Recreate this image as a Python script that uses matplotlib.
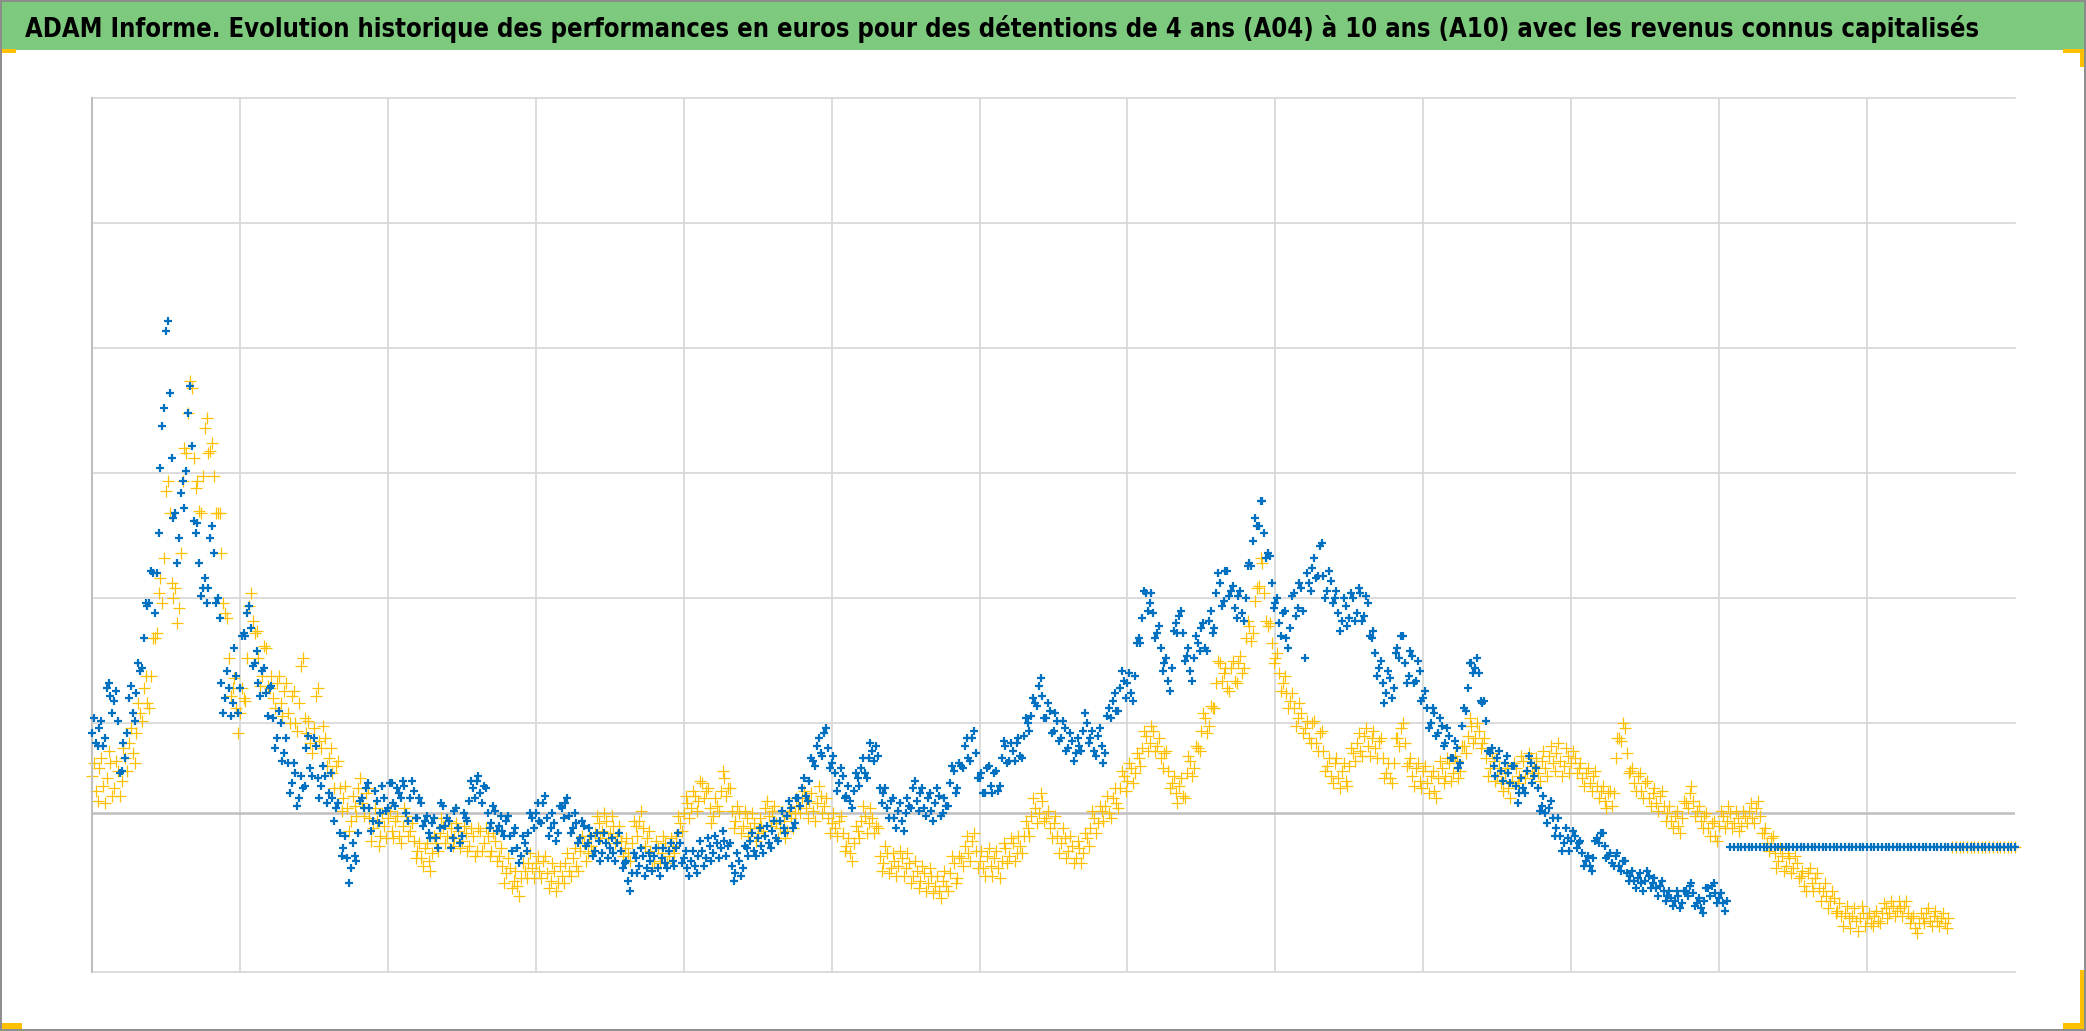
import os
import numpy as np
import matplotlib
matplotlib.use("Agg")
import matplotlib.pyplot as plt
from matplotlib import font_manager
from matplotlib.font_manager import FontProperties
from matplotlib.patches import Rectangle

# ---------------- data ----------------
title = ("ADAM Informe. Evolution historique des performances en euros pour des "
         "détentions de 4 ans (A04) à 10 ans (A10) avec les revenus connus capitalisés")

step = 0.025            # time between observations (x axis = 13 grid periods)
x_max = 13.0
y_min, y_max = -63.4, 286.2
grid_y = [36.2, 86.2, 136.2, 186.2, 236.2]
flat_value = -13.7      # constant value shown after the end of each series

# A04 (blue) performance, %  (observations at t = k*step)
a04_perf = [
    32, 28, 34, 27, 50, 47, 45, 37, 17, 22, 46, 40, 48, 57, 70, 83, 97, 80, 112, 155,
    193, 168, 118, 100, 128, 122, 160, 147, 112, 100, 90, 84, 110, 104, 86, 52, 46, 50, 44, 55,
    50, 72, 80, 74, 60, 52, 57, 48, 50, 38, 30, 36, 24, 20, 12, 16, 6, 10, 26, 18,
    30, 14, 11, 15, 8, 6, 2, -8, -14, -18, -22, -17, -8, 6, 10, 2, -3, 5, 0, 6,
    2, 12, 3, 8, 13, 0, 6, 9, -2, 4, -3, -8, -4, -10, -6, 3, -2, -14, 1, -6,
    -9, -2, 5, 10, 13, 8, 11, 0, -4, 1, -5, -7, -3, -9, -8, -14, -17, -12, -8, -2,
    0, -3, 4, -2, -6, -4, -8, 2, 4, -1, -6, -4, -10, -5, -12, -9, -15, -11, -16, -12,
    -14, -16, -12, -15, -20, -27, -24, -18, -21, -17, -22, -19, -17, -22, -18, -20, -15, -19, -14, -12,
    -18, -22, -19, -21, -17, -15, -18, -13, -16, -12, -14, -11, -13, -21, -24, -19, -22, -14, -11, -15,
    -10, -13, -9, -12, -7, -10, -3, -6, -1, 2, -4, 6, 10, 7, 13, 21, 27, 24, 32, 26,
    20, 16, 12, 15, 7, 5, 9, 14, 18, 16, 22, 25, 27, 10, 8, 2, 5, -2, 1, -3,
    0, 3, 10, 5, 8, 2, 6, 1, 4, 7, 0, 3, 12, 17, 10, 19, 27, 22, 30, 24,
    14, 8, 18, 11, 16, 9, 22, 27, 21, 25, 28, 23, 31, 36, 39, 44, 51, 47, 38, 41,
    33, 37, 30, 34, 26, 29, 24, 27, 33, 36, 30, 25, 31, 27, 24, 42, 45, 41, 50, 53,
    52, 48, 55, 70, 78, 88, 84, 80, 72, 66, 60, 53, 58, 76, 79, 72, 63, 57, 62, 68,
    74, 66, 77, 72, 88, 92, 85, 97, 89, 82, 87, 80, 86, 100, 109, 115, 125, 112, 104, 92,
    84, 76, 80, 70, 74, 88, 82, 90, 62, 92, 98, 94, 107, 95, 89, 93, 86, 80, 77, 83,
    78, 86, 80, 88, 79, 84, 70, 64, 58, 52, 48, 54, 50, 66, 71, 60, 55, 63, 53, 57,
    46, 42, 36, 40, 32, 35, 28, 31, 22, 26, 20, 42, 50, 60, 58, 56, 44, 37, 24, 19,
    22, 17, 20, 16, 19, 11, 8, 10, 17, 20, 15, 10, 3, 0, 2, -2, -6, -9, -12, -10,
    -11, -9, -12, -16, -19, -21, -18, -10, -8, -13, -17, -20, -17, -21, -19, -24, -25, -27, -26, -28,
    -27, -25, -28, -30, -29, -31, -33, -34, -35, -33, -36, -31, -29, -32, -36, -38, -35, -30, -29, -32,
    -34, -36, -35,
]
# A04 observations in between (t = k*step + step/2)
a04_perf_mid = [
    38, 27, 37, 30, 52, 40, 49, 16, 28, 32, 51, 37, 60, 58, 84, 84, 96, 96, 138, 162,
    197, 142, 120, 110, 133, 137, 171, 117, 116, 87, 94, 90, 115, 84, 78, 40, 57, 39, 66, 40,
    71, 71, 83, 59, 65, 47, 58, 39, 51, 26, 41, 21, 30, 8, 20, 3, 15, 11, 31, 15,
    27, 6, 19, 4, 16, -3, 4, -17, -9, -28, -12, -19, 5, 2, 12, -7, 9, -4, 11, 1,
    12, 4, 10, 6, 11, -3, 13, -2, 6, -5, -1, -10, -2, -14, 4, -5, -3, -10, 2, -12,
    0, -3, 13, 6, 15, 4, 10, -6, 3, -7, -1, -9, -1, -15, -6, -20, -9, -15, 0, -6,
    4, -4, 7, -9, 0, -11, 3, -2, 6, -8, 0, -12, -3, -13, -6, -17, -8, -19, -8, -18,
    -10, -19, -8, -22, -19, -31, -16, -24, -14, -25, -16, -23, -14, -25, -14, -22, -12, -21, -8, -20,
    -15, -25, -15, -24, -11, -21, -10, -19, -9, -18, -7, -17, -12, -27, -16, -25, -13, -17, -8, -17,
    -6, -16, -5, -14, -3, -11, 1, -8, 5, -6, 6, 3, 14, 5, 22, 19, 30, 23, 34, 18,
    23, 9, 18, 6, 11, 2, 16, 11, 22, 14, 28, 21, 23, 4, 10, -2, 6, -6, 4, -7,
    6, 2, 13, 1, 10, -1, 8, -3, 10, -1, 6, 3, 19, 8, 20, 18, 30, 21, 33, 14,
    16, 8, 19, 8, 17, 11, 29, 20, 28, 21, 30, 22, 38, 33, 46, 43, 54, 38, 44, 32,
    40, 29, 37, 25, 32, 21, 30, 25, 40, 28, 33, 23, 34, 20, 39, 38, 48, 41, 57, 46,
    56, 45, 68, 68, 89, 81, 88, 70, 75, 57, 62, 49, 73, 72, 81, 61, 66, 53, 71, 65,
    76, 65, 81, 74, 96, 83, 97, 87, 91, 78, 89, 77, 99, 99, 118, 115, 125, 102, 103, 82,
    86, 71, 81, 66, 87, 79, 92, 81, 96, 89, 102, 95, 108, 86, 97, 84, 89, 73, 86, 75,
    88, 77, 90, 77, 87, 71, 73, 55, 61, 44, 57, 46, 64, 62, 71, 52, 65, 52, 61, 45,
    49, 34, 42, 31, 38, 27, 34, 22, 29, 18, 35, 41, 60, 56, 62, 45, 45, 25, 26, 15,
    25, 13, 23, 12, 19, 4, 14, 8, 23, 12, 18, 1, 7, -4, 5, -9, -2, -15, -6, -15,
    -7, -14, -11, -21, -17, -23, -11, -12, -8, -18, -16, -21, -16, -23, -19, -27, -23, -30, -24, -31,
    -23, -30, -26, -33, -27, -35, -31, -37, -31, -38, -31, -33, -28, -37, -34, -40, -30, -33, -28, -36,
    -32, -39,
]
a04_flat_count = 78

# A10 (yellow) performance, %
a10_perf = [
    15, 9, 18, 11, 14, 20, 10, 17, 13, 22, 28, 24, 32, 40, 50, 44, 55, 70, 88, 84,
    129, 120, 86, 76, 104, 146, 160, 170, 130, 121, 135, 158, 145, 135, 120, 104, 80, 62, 50, 42,
    40, 46, 62, 88, 72, 62, 55, 66, 50, 46, 52, 44, 49, 40, 47, 36, 44, 62, 32, 28,
    34, 50, 26, 30, 22, 16, 19, 10, 6, 2, -3, 3, 10, 4, 8, -2, -6, -3, -9, -5,
    -2, -7, -3, -9, -5, -1, -7, -11, -15, -18, -14, -19, -16, -12, -8, -5, -9, -6, -10, -7,
    -11, -8, -13, -9, -15, -7, -12, -9, -15, -11, -17, -21, -24, -22, -27, -29, -26, -23, -20, -22,
    -20, -23, -19, -24, -27, -23, -28, -25, -20, -23, -18, -21, -15, -12, -16, -13, -8, -4, -7, -3,
    -8, -5, -9, -11, -14, -16, -12, -5, -3, -6, -10, -15, -19, -14, -16, -12, -17, -13, -9, -4,
    0, 4, 2, 7, 5, 12, 9, 2, -1, 3, 9, 14, 10, 1, -3, 0, -5, -2, -6, -4,
    -8, -5, 2, -1, 1, -4, -6, -3, -7, -2, 0, 3, 6, 2, 5, 1, 4, 7, 3, -2,
    -4, -6, -3, -8, -13, -16, -12, -7, -3, -1, -4, -2, -5, -17, -20, -16, -22, -19, -21, -18,
    -22, -20, -25, -23, -27, -24, -28, -25, -29, -31, -27, -29, -24, -20, -26, -18, -13, -16, -11, -15,
    -19, -22, -17, -21, -18, -22, -19, -14, -17, -12, -16, -13, -9, -6, -1, 2, 0, 5, -2, -6,
    -4, -9, -12, -10, -15, -13, -18, -14, -16, -10, -6, -2, -4, 1, 3, 0, 6, 4, 10, 15,
    13, 18, 16, 22, 26, 31, 28, 33, 27, 22, 24, 17, 12, 8, 11, 7, 16, 21, 18, 26,
    33, 38, 35, 42, 52, 60, 56, 50, 58, 53, 60, 56, 70, 75, 72, 90, 102, 88, 75, 68,
    62, 56, 52, 48, 45, 42, 38, 40, 34, 30, 36, 28, 32, 25, 19, 15, 20, 14, 17, 13,
    19, 24, 28, 25, 31, 27, 30, 26, 29, 22, 16, 14, 20, 30, 34, 28, 20, 15, 18, 13,
    17, 12, 15, 9, 14, 18, 15, 20, 16, 21, 17, 27, 31, 35, 30, 33, 28, 22, 18, 21,
    15, 12, 16, 10, 13, 18, 15, 21, 17, 22, 19, 16, 21, 18, 23, 20, 24, 21, 19, 23,
    20, 22, 18, 14, 16, 12, 15, 11, 9, 5, 8, 3, 22, 30, 36, 24, 17, 12, 15, 9,
    12, 6, 8, 4, 7, 3, 0, -3, -1, -5, -2, 4, 8, 5, 1, -3, -1, -6, -4, -9,
    -5, -1, -3, 0, -4, -2, -5, -1, 1, -2, 2, -1, -8, -12, -10, -16, -19, -17, -21, -18,
    -22, -20, -25, -29, -24, -28, -26, -30, -31, -33, -35, -34, -39, -41, -40, -42, -41, -43, -42, -40,
    -42, -44, -41, -43, -40, -38, -40, -37, -39, -38, -37, -40, -42, -46, -44, -42, -40, -43, -41, -43,
    -42, -44, -42,
]
a10_perf_mid = [
    20, 5, 22, 4, 25, 7, 21, 7, 26, 17, 34, 20, 44, 37, 55, 42, 70, 72, 94, 102,
    133, 92, 90, 82, 133, 144, 173, 142, 133, 120, 154, 144, 148, 120, 120, 84, 78, 47, 54, 32,
    50, 45, 83, 77, 73, 51, 67, 51, 55, 42, 55, 39, 52, 36, 49, 33, 59, 38, 37, 24,
    47, 29, 35, 19, 26, 10, 21, 1, 11, -7, 7, -1, 14, -1, 10, -11, 2, -13, 0, -10,
    1, -10, -1, -12, 2, -9, -4, -18, -12, -21, -12, -23, -9, -15, -2, -12, -3, -13, -4, -14,
    -5, -15, -6, -17, -6, -15, -6, -17, -8, -19, -14, -28, -18, -30, -23, -33, -20, -26, -16, -26,
    -17, -26, -17, -30, -20, -31, -21, -28, -16, -25, -14, -23, -9, -19, -9, -15, -1, -10, 0, -10,
    -1, -12, -5, -17, -10, -19, -3, -9, 1, -13, -7, -22, -11, -20, -9, -20, -10, -16, -1, -7,
    7, -2, 9, 1, 13, 6, 10, -4, 6, 1, 17, 7, 10, -6, 3, -8, 1, -9, 0, -11,
    -2, -7, 5, -5, 3, -10, 1, -10, 1, -6, 6, 0, 9, -2, 8, -3, 11, 0, 6, -8,
    0, -9, -1, -15, -10, -19, -5, -10, 3, -8, 2, -8, -6, -23, -13, -24, -16, -25, -15, -25,
    -16, -28, -19, -30, -21, -31, -22, -32, -25, -34, -23, -31, -17, -28, -17, -21, -9, -19, -8, -22,
    -15, -25, -14, -25, -15, -26, -12, -20, -10, -19, -9, -16, -3, -9, 6, -4, 8, -3, 1, -10,
    -1, -16, -6, -18, -9, -20, -11, -20, -8, -13, 1, -8, 3, -3, 7, -2, 10, 2, 17, 9,
    20, 12, 24, 19, 33, 25, 35, 25, 30, 18, 25, 10, 15, 4, 14, 6, 23, 15, 27, 25,
    40, 32, 43, 42, 61, 53, 58, 49, 61, 52, 63, 58, 77, 69, 85, 91, 100, 77, 76, 60,
    64, 49, 55, 42, 48, 35, 44, 32, 37, 28, 37, 25, 33, 17, 22, 12, 22, 10, 20, 11,
    26, 21, 32, 23, 34, 23, 33, 22, 30, 14, 20, 12, 30, 27, 36, 19, 22, 11, 20, 10,
    19, 8, 17, 6, 21, 12, 22, 13, 23, 14, 27, 24, 38, 28, 36, 26, 30, 15, 24, 13,
    18, 9, 18, 6, 20, 12, 23, 14, 24, 16, 22, 13, 25, 15, 27, 17, 28, 15, 26, 16,
    25, 16, 20, 11, 18, 9, 17, 6, 11, 2, 9, 8, 30, 29, 34, 16, 18, 9, 16, 6,
    13, 3, 10, 1, 9, -3, 3, -6, 1, -8, 5, 2, 11, -1, 3, -6, 0, -9, -3, -11,
    1, -6, 3, -6, 1, -7, 1, -4, 4, -4, 5, -8, -6, -15, -9, -22, -14, -23, -16, -24,
    -17, -26, -23, -31, -22, -31, -24, -35, -28, -38, -31, -40, -36, -45, -37, -46, -38, -47, -37, -45,
    -40, -45, -39, -44, -36, -42, -35, -41, -35, -41, -35, -44, -41, -48, -40, -44, -38, -45, -39, -45,
    -40, -46,
]
a10_flat_count = 18

# ---------------- figure ----------------
W, H, DPI = 2086, 1031, 100
BLUE, YELLOW = "#0070C0", "#FFC000"
GRID, AXIS = "#D9D9D9", "#BFBFBF"

fig = plt.figure(figsize=(W / DPI, H / DPI), dpi=DPI)
fig.patch.set_facecolor("white")


def px_rect(x0, y0, x1, y1, color, z=5):
    r = Rectangle((x0 / W, 1 - y1 / H), (x1 - x0) / W, (y1 - y0) / H,
                  transform=fig.transFigure, facecolor=color, edgecolor="none", zorder=z)
    fig.add_artist(r)


# title banner
px_rect(0, 0, W, 50, "#7DC97E", z=1)
# outer border
fig.add_artist(Rectangle((0.0003, 0.0005), 0.9994, 0.999, transform=fig.transFigure,
                         fill=False, edgecolor="#8C8C8C", linewidth=1.4, zorder=6))
# selection-handle corner marks
px_rect(0, 49, 16, 53, YELLOW)
px_rect(2063, 49, 2086, 53, YELLOW)
px_rect(2080, 49, 2085, 67, YELLOW)
px_rect(0, 1023, 22, 1030, YELLOW)
px_rect(2063, 1023, 2086, 1030, YELLOW)
px_rect(2080, 970, 2085, 1030, YELLOW)


def pick_title_font():
    fl = font_manager.fontManager.ttflist
    for f in fl:
        fn = os.path.basename(f.fname).lower()
        if f.name == "Liberation Sans Narrow" and "bold" in fn and "italic" not in fn:
            return FontProperties(fname=f.fname)
    for f in fl:
        fn = os.path.basename(f.fname).lower()
        if ("condensed" in fn or "narrow" in fn) and "bold" in fn and "oblique" not in fn \
                and "italic" not in fn:
            return FontProperties(fname=f.fname)
    return FontProperties(family="DejaVu Sans", weight="bold")


tfp = pick_title_font()
ttl = fig.text(25 / W, 1 - 37 / H, title, fontproperties=tfp, fontsize=20,
               ha="left", va="baseline", color="black", zorder=7)
fig.canvas.draw()
bw = ttl.get_window_extent().width
ttl.set_fontsize(20 * 1961 / bw)

# plot area
ax = fig.add_axes([92 / W, 1 - 971.7 / H, (2015 - 92) / W, (971.7 - 97.7) / H])
ax.set_xlim(0, x_max)
ax.set_ylim(y_min, y_max)
ax.set_xticks([])
ax.set_yticks([])
for s in ("top", "right", "bottom"):
    ax.spines[s].set_visible(False)
ax.spines["left"].set_color(AXIS)
ax.spines["left"].set_linewidth(1.5)
ax.set_facecolor("white")

for gx in range(1, int(x_max)):
    ax.axvline(gx, color=GRID, lw=1.3, zorder=0)
for gy in grid_y + [y_max, y_min]:
    ax.axhline(gy, color=GRID, lw=1.3, zorder=0, clip_on=False)
ax.axhline(0, color=AXIS, lw=1.8, zorder=0.5)

a10_all = np.array(a10_perf + [flat_value] * a10_flat_count, dtype=float)
a04_all = np.array(a04_perf + [flat_value] * a04_flat_count, dtype=float)
x10 = np.arange(len(a10_all)) * step
x04 = np.arange(len(a04_all)) * step
x10m = np.arange(len(a10_perf_mid)) * step + step / 2
x04m = np.arange(len(a04_perf_mid)) * step + step / 2

ystyle = dict(linestyle="none", marker="+", markersize=8.5, markeredgewidth=0.9,
              color=YELLOW, zorder=2, clip_on=False)
bstyle = dict(linestyle="none", marker="+", markersize=6.3, markeredgewidth=1.6,
              color=BLUE, zorder=3, clip_on=False)
ax.plot(x10, a10_all, **ystyle)
ax.plot(x10m, a10_perf_mid, **ystyle)
ax.plot(x04, a04_all, **bstyle)
ax.plot(x04m, a04_perf_mid, **bstyle)

fig.savefig("out.png", dpi=DPI)
